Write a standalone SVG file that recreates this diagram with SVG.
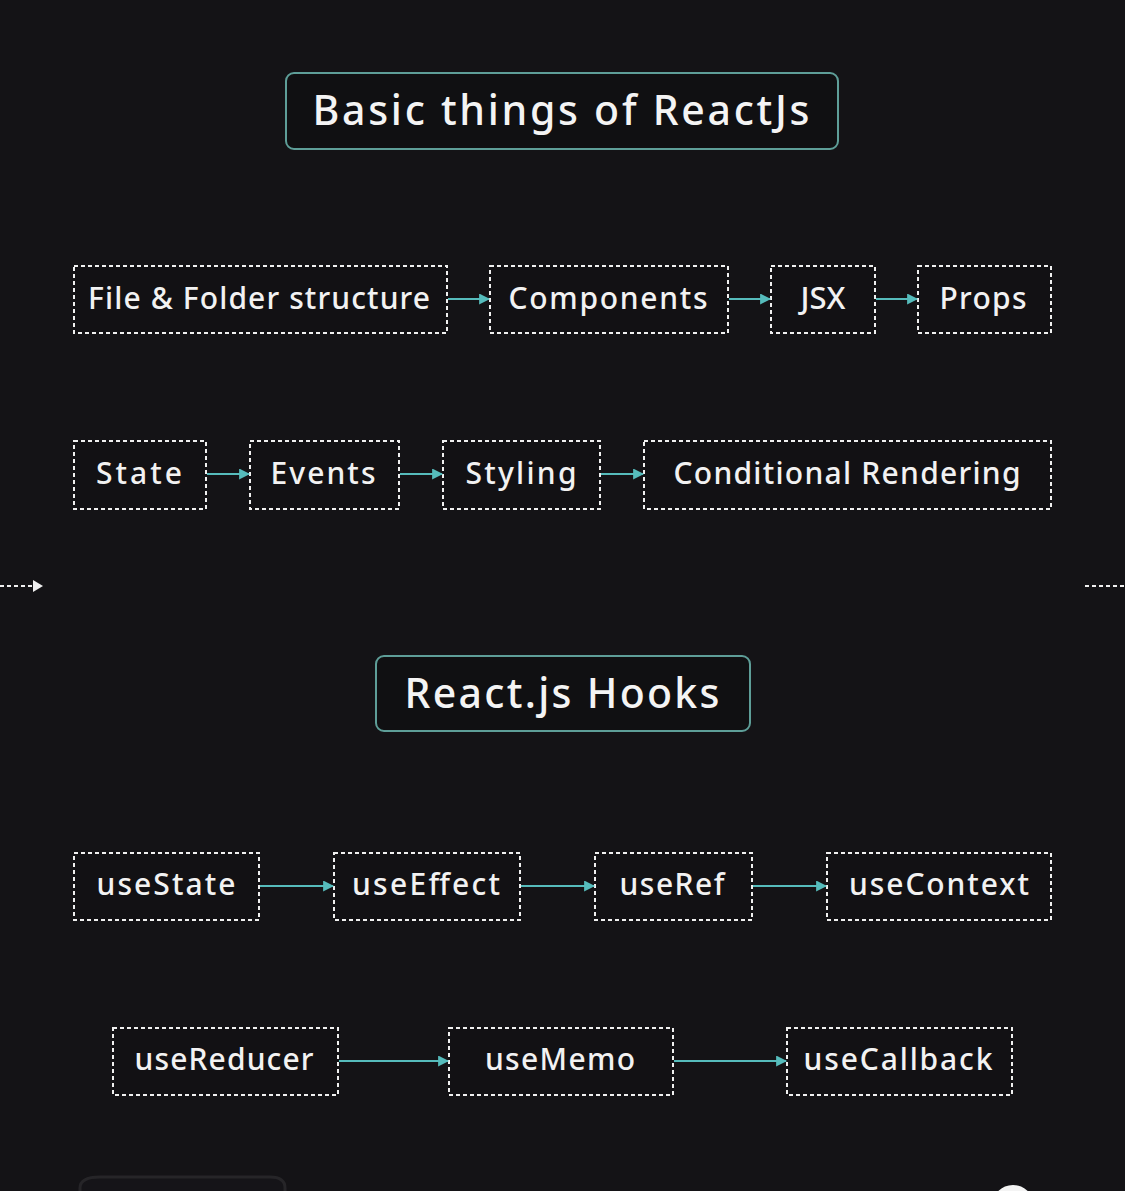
<svg xmlns="http://www.w3.org/2000/svg" width="1125" height="1191" viewBox="0 0 1125 1191">
<style>
.title{fill:#101012;stroke:#5e9e98;stroke-width:2}
.tt{font-family:"Noto Sans","DejaVu Sans",sans-serif;font-size:41px;font-weight:500;fill:#f4f4f4;text-anchor:middle}
.box{fill:#121114;stroke:#f0f0f0;stroke-width:2;stroke-dasharray:4 3}
.lbl{font-family:"Noto Sans","DejaVu Sans",sans-serif;font-size:30px;font-weight:500;fill:#f2f2f2;text-anchor:middle}
.con{stroke:#56bcbc;stroke-width:2;fill:none;marker-end:url(#ah)}
</style>
<defs>
<marker id="ah" viewBox="0 0 10 10" refX="9" refY="5" markerWidth="5.5" markerHeight="5.5" markerUnits="strokeWidth" orient="auto">
<path d="M0,0 L10,5 L0,10 z" fill="#56bcbc"/>
</marker>
</defs>
<rect width="1125" height="1191" fill="#141316"/>

<g id="title1"><rect class="title" x="286" y="73" width="552" height="76" rx="8"/><text class="tt" x="561" y="125" textLength="497" lengthAdjust="spacing">Basic things of ReactJs</text></g>

<g id="n-file"><rect class="box" x="74" y="266" width="373" height="67"/><text class="lbl" x="259" y="309" textLength="342" lengthAdjust="spacing">File &amp; Folder structure</text></g>
<g id="n-components"><rect class="box" x="490" y="266" width="238" height="67"/><text class="lbl" x="608" y="309" textLength="199" lengthAdjust="spacing">Components</text></g>
<g id="n-jsx"><rect class="box" x="771" y="266" width="104" height="67"/><text class="lbl" x="823" y="309" style="font-size:31px">JSX</text></g>
<g id="n-props"><rect class="box" x="918" y="266" width="133" height="67"/><text class="lbl" x="983" y="309" textLength="87" lengthAdjust="spacing">Props</text></g>

<g id="n-state"><rect class="box" x="74" y="441" width="132" height="68"/><text class="lbl" x="139" y="484" textLength="86" lengthAdjust="spacing">State</text></g>
<g id="n-events"><rect class="box" x="250" y="441" width="149" height="68"/><text class="lbl" x="323" y="484" textLength="105" lengthAdjust="spacing">Events</text></g>
<g id="n-styling"><rect class="box" x="443" y="441" width="157" height="68"/><text class="lbl" x="521" y="484" textLength="111" lengthAdjust="spacing">Styling</text></g>
<g id="n-cond"><rect class="box" x="644" y="441" width="407" height="68"/><text class="lbl" x="847" y="484" textLength="347" lengthAdjust="spacing">Conditional Rendering</text></g>

<g id="title2"><rect class="title" x="376" y="656" width="374" height="75" rx="8"/><text class="tt" x="562" y="708" textLength="315" lengthAdjust="spacing">React.js Hooks</text></g>

<g id="n-usestate"><rect class="box" x="74" y="853" width="185" height="67"/><text class="lbl" x="166" y="895" textLength="139" lengthAdjust="spacing">useState</text></g>
<g id="n-useeffect"><rect class="box" x="334" y="853" width="186" height="67"/><text class="lbl" x="426" y="895" textLength="148" lengthAdjust="spacing">useEffect</text></g>
<g id="n-useref"><rect class="box" x="595" y="853" width="157" height="67"/><text class="lbl" x="672" y="895" textLength="105" lengthAdjust="spacing">useRef</text></g>
<g id="n-usecontext"><rect class="box" x="827" y="853" width="224" height="67"/><text class="lbl" x="939" y="895" textLength="180" lengthAdjust="spacing">useContext</text></g>

<g id="n-usereducer"><rect class="box" x="113" y="1028" width="225" height="67"/><text class="lbl" x="224" y="1070" textLength="179" lengthAdjust="spacing">useReducer</text></g>
<g id="n-usememo"><rect class="box" x="449" y="1028" width="224" height="67"/><text class="lbl" x="560" y="1070" textLength="150" lengthAdjust="spacing">useMemo</text></g>
<g id="n-usecallback"><rect class="box" x="787" y="1028" width="225" height="67"/><text class="lbl" x="898" y="1070" textLength="189" lengthAdjust="spacing">useCallback</text></g>

<g id="connectors">
<line class="con" x1="448" y1="299" x2="489" y2="299"/>
<line class="con" x1="729" y1="299" x2="770" y2="299"/>
<line class="con" x1="876" y1="299" x2="917" y2="299"/>
<line class="con" x1="207" y1="474" x2="249" y2="474"/>
<line class="con" x1="400" y1="474" x2="442" y2="474"/>
<line class="con" x1="601" y1="474" x2="643" y2="474"/>
<line class="con" x1="260" y1="886" x2="333" y2="886"/>
<line class="con" x1="521" y1="886" x2="594" y2="886"/>
<line class="con" x1="753" y1="886" x2="826" y2="886"/>
<line class="con" x1="339" y1="1061" x2="448" y2="1061"/>
<line class="con" x1="674" y1="1061" x2="786" y2="1061"/>
<line x1="0" y1="586" x2="33" y2="586" stroke="#f0f0f0" stroke-width="2" stroke-dasharray="4 3"/>
<path d="M33,580 L43,586 L33,592 z" fill="#f0f0f0"/>
<line x1="1085" y1="586" x2="1125" y2="586" stroke="#f0f0f0" stroke-width="2" stroke-dasharray="4 3"/>
</g>

<path d="M80,1191 L80,1188 Q80,1177 100,1177 L270,1177 Q285,1177 285,1188 L285,1191" fill="#161519" stroke="#2e2d31" stroke-width="3" opacity="0.7"/>
<circle cx="1013" cy="1206" r="21" fill="#f4f4f4"/>
</svg>
